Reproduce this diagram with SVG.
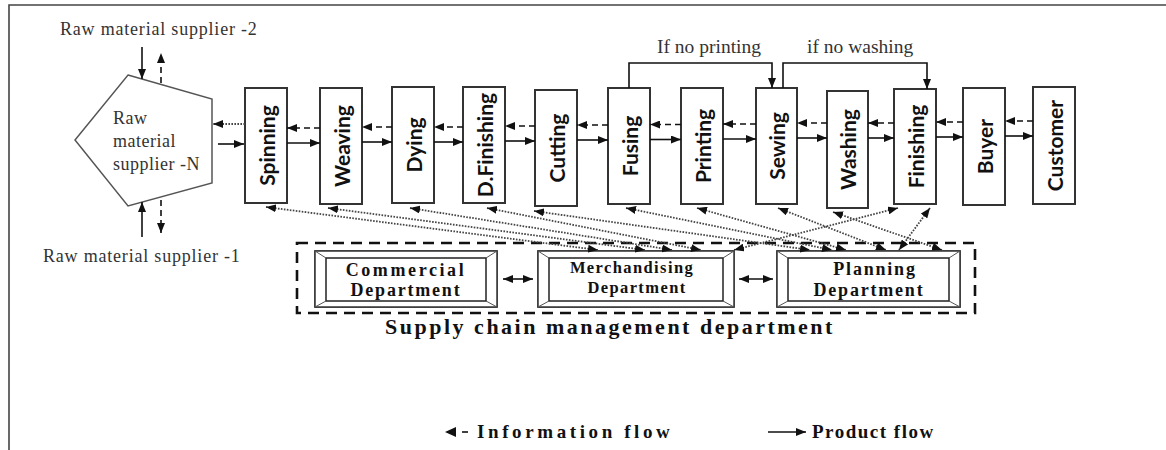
<svg xmlns="http://www.w3.org/2000/svg" width="1166" height="450" viewBox="0 0 1166 450">
<style>
.frame{stroke:#444;stroke-width:1.6;fill:none}
.box{fill:#fff;stroke:#333;stroke-width:2}
.lbl{font-family:Lato,"Open Sans",sans-serif;font-weight:bold;font-size:21px;fill:#111}
.ser{font-family:"Liberation Serif","Times New Roman",serif;fill:#333}
.bold{font-family:"Liberation Serif","Times New Roman",serif;font-weight:bold;fill:#111}
.prod{stroke:#111;stroke-width:1.6;fill:none}
.info{stroke:#111;stroke-width:1.6;stroke-dasharray:6 4;fill:none}
.dot{stroke:#444;stroke-width:1.8;stroke-dasharray:1.6 1.4;fill:none}
.dash{stroke:#111;stroke-width:2.6;stroke-dasharray:11 7;fill:none}
.outer{fill:#fff;stroke:#333;stroke-width:1.5}
.inner{fill:#fff;stroke:#222;stroke-width:1.5}
.bev{stroke:#555;stroke-width:1}
</style>
<defs>
<marker id="ah" viewBox="0 0 10 8" refX="10" refY="4" markerWidth="10" markerHeight="8" markerUnits="userSpaceOnUse" orient="auto">
<path d="M0,0 L10,4 L0,8 z" fill="#111"/>
</marker>
<marker id="ad" viewBox="0 0 10 8" refX="10" refY="4" markerWidth="10" markerHeight="8" markerUnits="userSpaceOnUse" orient="auto-start-reverse">
<path d="M0,0 L10,4 L0,8 z" fill="#111"/>
</marker>
</defs>

<rect width="1166" height="450" fill="#fff"/>
<path class="frame" d="M9,450 L9,5 L1166,5"/>

<g id="supplier-N">
<polygon points="128,75 212,99 212,183 128,206 75,140" fill="#fff" stroke="#555" stroke-width="1.5"/>
<text class="ser" font-size="18" letter-spacing="0.5" x="113" y="124">Raw</text>
<text class="ser" font-size="18" letter-spacing="0.5" x="113" y="147">material</text>
<text class="ser" font-size="18" letter-spacing="0.5" x="113" y="170">supplier -N</text>
</g>
<g id="supplier-2"><text class="ser" font-size="18" letter-spacing="0.8" x="60" y="35">Raw material supplier -2</text></g>
<g id="supplier-1"><text class="ser" font-size="18" letter-spacing="0.8" x="43" y="262">Raw material supplier -1</text></g>

<g id="n-spinning"><rect class="box" x="245" y="88" width="42" height="115"/><text class="lbl" transform="translate(266,145.5) rotate(-90)" text-anchor="middle" dominant-baseline="central">Spinning</text></g>
<g id="n-weaving"><rect class="box" x="320" y="88" width="42" height="116"/><text class="lbl" transform="translate(341,146) rotate(-90)" text-anchor="middle" dominant-baseline="central">Weaving</text></g>
<g id="n-dying"><rect class="box" x="392" y="87" width="42" height="116"/><text class="lbl" transform="translate(413,145) rotate(-90)" text-anchor="middle" dominant-baseline="central">Dying</text></g>
<g id="n-dfinishing"><rect class="box" x="463" y="87" width="42" height="116"/><text class="lbl" transform="translate(484,145) rotate(-90)" text-anchor="middle" dominant-baseline="central">D.Finishing</text></g>
<g id="n-cutting"><rect class="box" x="535" y="90" width="42" height="116"/><text class="lbl" transform="translate(556,148) rotate(-90)" text-anchor="middle" dominant-baseline="central">Cutting</text></g>
<g id="n-fusing"><rect class="box" x="608" y="88" width="42" height="116"/><text class="lbl" transform="translate(629,146) rotate(-90)" text-anchor="middle" dominant-baseline="central">Fusing</text></g>
<g id="n-printing"><rect class="box" x="681" y="88" width="42" height="116"/><text class="lbl" transform="translate(702,146) rotate(-90)" text-anchor="middle" dominant-baseline="central">Printing</text></g>
<g id="n-sewing"><rect class="box" x="756" y="88" width="41" height="116"/><text class="lbl" transform="translate(776.5,146) rotate(-90)" text-anchor="middle" dominant-baseline="central">Sewing</text></g>
<g id="n-washing"><rect class="box" x="827" y="91" width="41" height="117"/><text class="lbl" transform="translate(847.5,149.5) rotate(-90)" text-anchor="middle" dominant-baseline="central">Washing</text></g>
<g id="n-finishing"><rect class="box" x="894" y="89" width="42" height="115"/><text class="lbl" transform="translate(915,146.5) rotate(-90)" text-anchor="middle" dominant-baseline="central">Finishing</text></g>
<g id="n-buyer"><rect class="box" x="963" y="88" width="42" height="117"/><text class="lbl" transform="translate(984,146.5) rotate(-90)" text-anchor="middle" dominant-baseline="central">Buyer</text></g>
<g id="n-customer"><rect class="box" x="1033" y="87" width="42" height="117"/><text class="lbl" transform="translate(1054,145.5) rotate(-90)" text-anchor="middle" dominant-baseline="central">Customer</text></g>

<g id="scm-department">
<rect class="dash" x="297" y="243" width="678" height="70"/>
<text class="bold" font-size="22" letter-spacing="2.5" x="610" y="334" text-anchor="middle">Supply chain management department</text>
</g>

<g id="d-commercial">
<rect class="outer" x="315" y="251" width="182" height="56"/>
<polygon points="315,251 497,251 486,258 326,258" fill="#eeeeee"/>
<polygon points="315,251 326,258 326,301 315,307" fill="#fafafa"/>
<polygon points="497,251 497,307 486,301 486,258" fill="#999"/>
<polygon points="315,307 326,301 486,301 497,307" fill="#bbb"/>
<rect class="outer" x="315" y="251" width="182" height="56" fill="none"/>
<rect class="inner" x="326" y="258" width="160" height="43"/>
<line class="bev" x1="315" y1="251" x2="326" y2="258"/><line class="bev" x1="497" y1="251" x2="486" y2="258"/>
<line class="bev" x1="315" y1="307" x2="326" y2="301"/><line class="bev" x1="497" y1="307" x2="486" y2="301"/>
<text class="bold" font-size="18" letter-spacing="2.6" x="406" y="276" text-anchor="middle">Commercial</text>
<text class="bold" font-size="18" letter-spacing="1.8" x="406" y="296" text-anchor="middle">Department</text>
</g>

<g id="d-merchandising">
<rect class="outer" x="538" y="251" width="196" height="56"/>
<polygon points="538,251 734,251 723,258 549,258" fill="#eeeeee"/>
<polygon points="538,251 549,258 549,301 538,307" fill="#fafafa"/>
<polygon points="734,251 734,307 723,301 723,258" fill="#999"/>
<polygon points="538,307 549,301 723,301 734,307" fill="#bbb"/>
<rect class="outer" x="538" y="251" width="196" height="56" fill="none"/>
<rect class="inner" x="549" y="258" width="174" height="43"/>
<line class="bev" x1="538" y1="251" x2="549" y2="258"/><line class="bev" x1="734" y1="251" x2="723" y2="258"/>
<line class="bev" x1="538" y1="307" x2="549" y2="301"/><line class="bev" x1="734" y1="307" x2="723" y2="301"/>
<text class="bold" font-size="16.5" letter-spacing="1.4" x="632" y="273" text-anchor="middle">Merchandising</text>
<text class="bold" font-size="16.5" letter-spacing="1.4" x="637" y="293" text-anchor="middle">Department</text>
</g>

<g id="d-planning">
<rect class="outer" x="777" y="251" width="183" height="56"/>
<polygon points="777,251 960,251 949,258 788,258" fill="#eeeeee"/>
<polygon points="777,251 788,258 788,301 777,307" fill="#fafafa"/>
<polygon points="960,251 960,307 949,301 949,258" fill="#999"/>
<polygon points="777,307 788,301 949,301 960,307" fill="#bbb"/>
<rect class="outer" x="777" y="251" width="183" height="56" fill="none"/>
<rect class="inner" x="788" y="258" width="161" height="43"/>
<line class="bev" x1="777" y1="251" x2="788" y2="258"/><line class="bev" x1="960" y1="251" x2="949" y2="258"/>
<line class="bev" x1="777" y1="307" x2="788" y2="301"/><line class="bev" x1="960" y1="307" x2="949" y2="301"/>
<text class="bold" font-size="18" letter-spacing="1.8" x="875" y="275" text-anchor="middle">Planning</text>
<text class="bold" font-size="18" letter-spacing="1.8" x="869" y="296" text-anchor="middle">Department</text>
</g>

<g id="skip-labels">
<text class="ser" font-size="19.5" x="657" y="53">If no printing</text>
<text class="ser" font-size="19.5" x="807" y="53">if no washing</text>
</g>

<g id="legend">
<polygon points="445,432 456,427 456,437" fill="#111"/>
<line x1="462" y1="432" x2="468" y2="432" stroke="#111" stroke-width="1.6"/>
<text class="bold" font-size="19" letter-spacing="3.6" x="477" y="438">Information flow</text>
<line x1="768" y1="432" x2="806" y2="432" class="prod" marker-end="url(#ah)"/>
<text class="bold" font-size="19" letter-spacing="1.5" x="812" y="438">Product flow</text>
</g>

<g id="connectors">
<line class="prod" x1="142" y1="47" x2="142" y2="79" marker-end="url(#ah)"/>
<line class="info" x1="161" y1="83" x2="161" y2="53" marker-end="url(#ah)"/>
<line class="prod" x1="142" y1="237" x2="142" y2="202" marker-end="url(#ah)"/>
<line class="info" x1="161" y1="200" x2="161" y2="233" marker-end="url(#ah)"/>
<line class="dot" x1="245" y1="124" x2="213" y2="124" marker-end="url(#ah)"/>
<line class="prod" x1="218" y1="144" x2="244" y2="144" marker-end="url(#ah)"/>
<line class="info" x1="320" y1="128" x2="287" y2="128" marker-end="url(#ah)"/>
<line class="prod" x1="287" y1="143" x2="320" y2="143" marker-end="url(#ah)"/>
<line class="info" x1="392" y1="127" x2="362" y2="127" marker-end="url(#ah)"/>
<line class="prod" x1="362" y1="142" x2="392" y2="142" marker-end="url(#ah)"/>
<line class="info" x1="463" y1="127" x2="434" y2="127" marker-end="url(#ah)"/>
<line class="prod" x1="434" y1="142" x2="463" y2="142" marker-end="url(#ah)"/>
<line class="info" x1="535" y1="126" x2="505" y2="126" marker-end="url(#ah)"/>
<line class="prod" x1="505" y1="141" x2="535" y2="141" marker-end="url(#ah)"/>
<line class="info" x1="608" y1="125" x2="577" y2="125" marker-end="url(#ah)"/>
<line class="prod" x1="577" y1="140" x2="608" y2="140" marker-end="url(#ah)"/>
<line class="info" x1="681" y1="124.5" x2="650" y2="124.5" marker-end="url(#ah)"/>
<line class="prod" x1="650" y1="139.5" x2="681" y2="139.5" marker-end="url(#ah)"/>
<line class="info" x1="756" y1="124" x2="723" y2="124" marker-end="url(#ah)"/>
<line class="prod" x1="723" y1="139" x2="756" y2="139" marker-end="url(#ah)"/>
<line class="info" x1="827" y1="123" x2="797" y2="123" marker-end="url(#ah)"/>
<line class="prod" x1="797" y1="138" x2="827" y2="138" marker-end="url(#ah)"/>
<line class="info" x1="894" y1="123" x2="868" y2="123" marker-end="url(#ah)"/>
<line class="prod" x1="868" y1="138" x2="894" y2="138" marker-end="url(#ah)"/>
<line class="info" x1="963" y1="122" x2="936" y2="122" marker-end="url(#ah)"/>
<line class="prod" x1="936" y1="137" x2="963" y2="137" marker-end="url(#ah)"/>
<line class="info" x1="1033" y1="121" x2="1005" y2="121" marker-end="url(#ah)"/>
<line class="prod" x1="1005" y1="136" x2="1033" y2="136" marker-end="url(#ah)"/>
<path class="prod" d="M629,88 L629,63 L772,63 L772,88" marker-end="url(#ah)"/>
<path class="prod" d="M783,88 L783,63 L927,63 L927,89" marker-end="url(#ah)"/>
<line class="dot" x1="266" y1="207" x2="598" y2="250" marker-start="url(#ad)" marker-end="url(#ad)"/>
<line class="dot" x1="328" y1="208" x2="645" y2="250" marker-start="url(#ad)" marker-end="url(#ad)"/>
<line class="dot" x1="410" y1="208" x2="672" y2="250" marker-start="url(#ad)" marker-end="url(#ad)"/>
<line class="dot" x1="487" y1="208" x2="701" y2="250" marker-start="url(#ad)" marker-end="url(#ad)"/>
<line class="dot" x1="534" y1="211" x2="810" y2="250" marker-start="url(#ad)" marker-end="url(#ad)"/>
<line class="dot" x1="626" y1="208" x2="832" y2="250" marker-start="url(#ad)" marker-end="url(#ad)"/>
<line class="dot" x1="697" y1="208" x2="846" y2="250" marker-start="url(#ad)" marker-end="url(#ad)"/>
<line class="dot" x1="778" y1="208" x2="886" y2="250" marker-start="url(#ad)" marker-end="url(#ad)"/>
<line class="dot" x1="833" y1="212" x2="942" y2="250" marker-start="url(#ad)" marker-end="url(#ad)"/>
<line class="dot" x1="898" y1="208" x2="734" y2="250" marker-start="url(#ad)" marker-end="url(#ad)"/>
<line class="dot" x1="930" y1="208" x2="899" y2="250" marker-start="url(#ad)" marker-end="url(#ad)"/>
<line class="prod" x1="503" y1="279" x2="533" y2="279" marker-start="url(#ad)" marker-end="url(#ad)"/>
<line class="prod" x1="739" y1="279" x2="773" y2="279" marker-start="url(#ad)" marker-end="url(#ad)"/>
</g>
</svg>
